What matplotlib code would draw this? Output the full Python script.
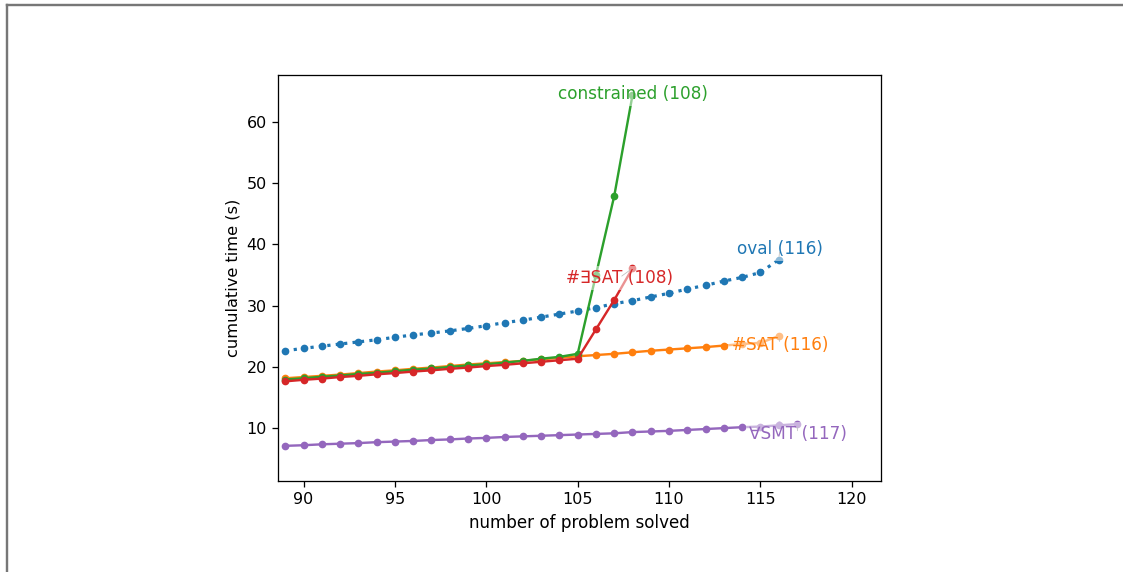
import numpy as np
import matplotlib
matplotlib.use('Agg')
import matplotlib.pyplot as plt
from matplotlib.lines import Line2D

# cumulative solve times, one entry per solved problem (starting at 89)
oval_y = [22.6, 23.0, 23.35, 23.7, 24.05, 24.4, 24.8, 25.2, 25.5, 25.85,
          26.25, 26.7, 27.2, 27.6, 28.1, 28.6, 29.1, 29.65, 30.3, 30.8,
          31.4, 32.0, 32.7, 33.3, 34.0, 34.6, 35.4, 37.5]
sat_y = [18.1, 18.3, 18.5, 18.7, 18.95, 19.2, 19.4, 19.65, 19.85, 20.1,
         20.35, 20.55, 20.75, 20.95, 21.2, 21.45, 21.7, 21.9, 22.1, 22.35,
         22.6, 22.8, 23.0, 23.2, 23.45, 23.7, 23.9, 25.0]
constrained_y = [17.9, 18.1, 18.35, 18.55, 18.8, 19.0, 19.25, 19.5, 19.7,
                 19.95, 20.2, 20.4, 20.65, 20.95, 21.3, 21.6, 22.1, 35.0,
                 47.9, 64.4]
esat_y = [17.6, 17.85, 18.05, 18.3, 18.5, 18.75, 18.95, 19.2, 19.4, 19.65,
          19.85, 20.1, 20.3, 20.55, 20.8, 21.05, 21.3, 26.1, 30.9, 36.1]
smt_y = [7.05, 7.15, 7.3, 7.4, 7.5, 7.65, 7.75, 7.85, 8.0, 8.1, 8.25, 8.35,
         8.5, 8.6, 8.7, 8.8, 8.9, 9.0, 9.1, 9.3, 9.4, 9.5, 9.65, 9.8, 9.95,
         10.1, 10.2, 10.4, 10.6]

names = ['oval', '#SAT', 'constrained', '#\u2203SAT', '\u2200SMT']
series = [oval_y, sat_y, constrained_y, esat_y, smt_y]
start = 89
# label centres, picked by eye
label_pos = [(116.07, 39.25), (116.07, 23.6), (108.03, 64.6),
             (107.27, 34.5), (117.05, 9.0)]

dpi = 115
fig = plt.figure(figsize=(1123 / dpi, 572 / dpi), dpi=dpi)
# frame of the page the chart was cut from (only left and top edges show)
x0, y0 = 6.5 / 1123, 1 - 4.5 / 572
fig.add_artist(Line2D([x0, x0], [-0.1, y0], transform=fig.transFigure,
                      color='#777777', lw=1.5))
fig.add_artist(Line2D([x0, 1.1], [y0, y0], transform=fig.transFigure,
                      color='#777777', lw=1.5))
ax = fig.add_axes([278 / 1123, 91 / 572, 603 / 1123, 406 / 572])

for i, (name, y) in enumerate(zip(names, series)):
    c = 'C%d' % i
    x = np.arange(start, start + len(y))
    if i == 0:
        ax.plot(x, y, ':', color=c, marker='o', ms=3.8, lw=2)
    else:
        ax.plot(x, y, '-', color=c, marker='o', ms=3.8, lw=1.5)
    ax.annotate('%s (%d)' % (name, x[-1]), xy=(x[-1], y[-1]),
                xytext=label_pos[i], textcoords='data',
                ha='center', va='center', color=c, fontsize=10.6,
                bbox=dict(boxstyle='square,pad=0.2', fc='white',
                          ec='none', alpha=0.5),
                arrowprops=dict(arrowstyle='-', color='gray', lw=0.5))

ax.set_xlim(88.6, 121.6)
ax.set_ylim(1.3, 67.7)
ax.set_xticks(range(90, 121, 5))
ax.set_yticks(range(10, 61, 10))
ax.set_xlabel('number of problem solved', fontsize=10.5)
ax.set_ylabel('cumulative time (s)', fontsize=10.2)

fig.savefig('out.png', dpi=dpi)
